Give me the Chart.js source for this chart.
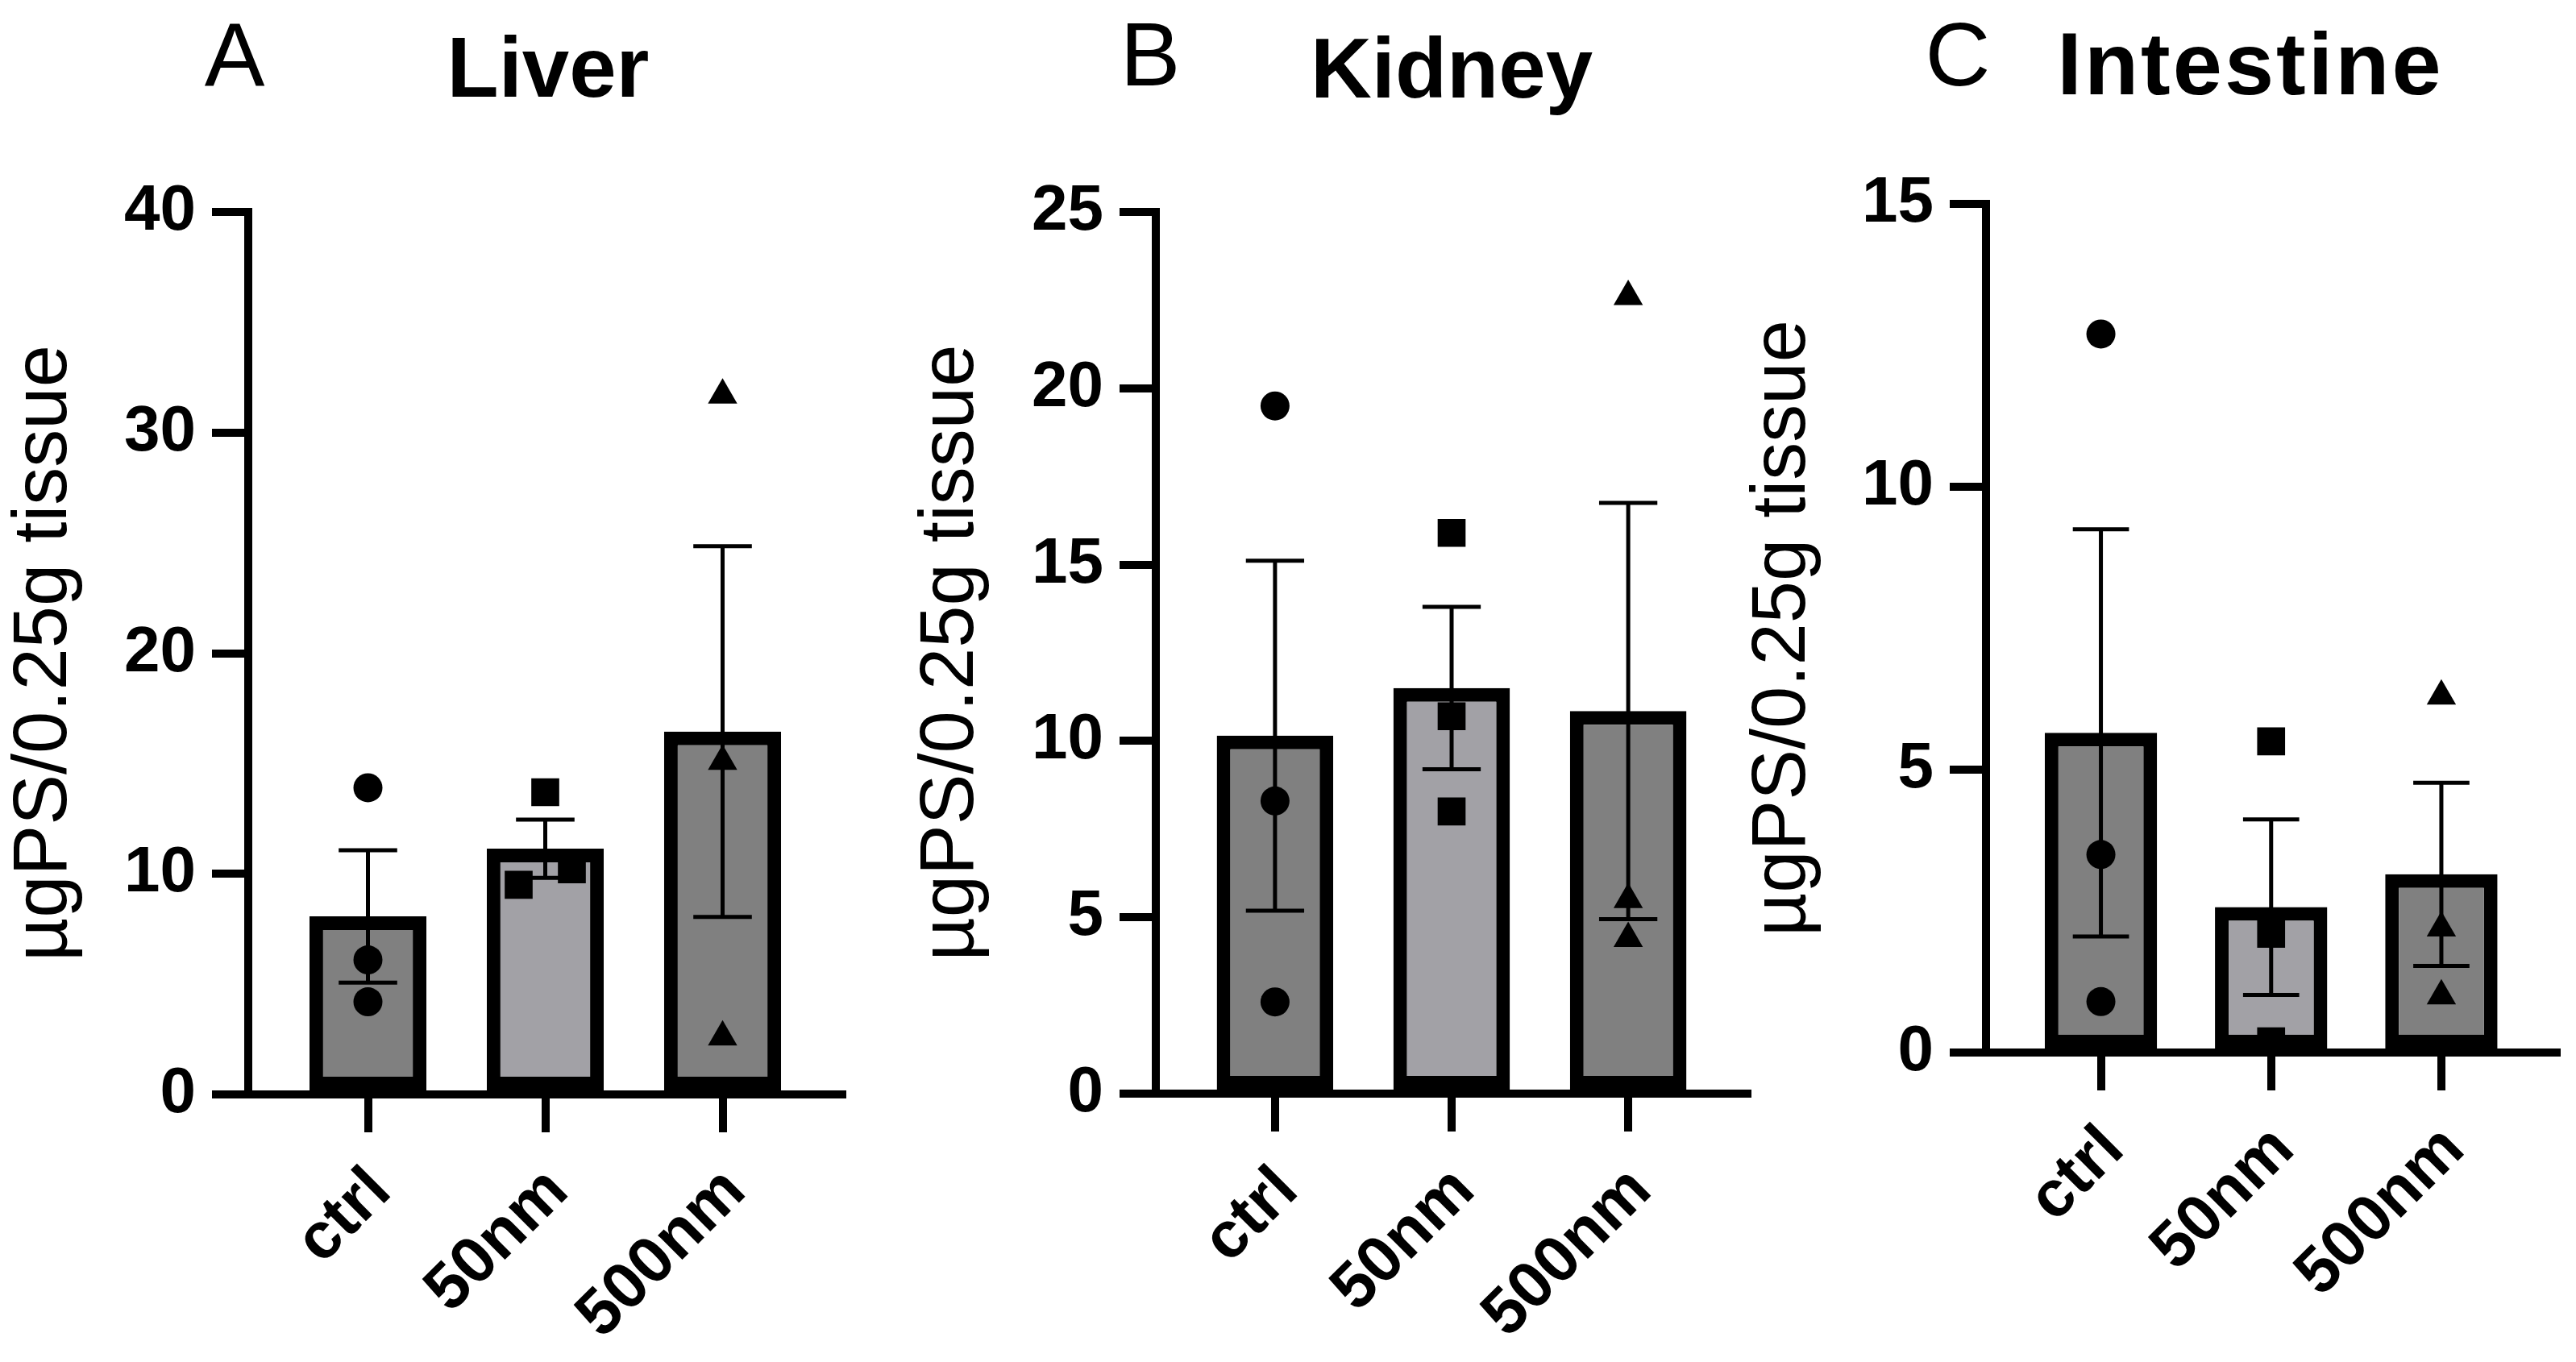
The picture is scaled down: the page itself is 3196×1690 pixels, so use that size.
<!DOCTYPE html>
<html>
<head>
<meta charset="utf-8">
<title>Tissue PS</title>
<script src="https://cdn.jsdelivr.net/npm/chart.js@4.4.1/dist/chart.umd.min.js"></script>
<style>
  html, body { margin: 0; padding: 0; background: #fff; }
  body { width: 3196px; height: 1690px; position: relative; overflow: hidden;
         font-family: "Liberation Sans", Arial, sans-serif; color: #000; }
  .panel { position: absolute; top: 0; height: 1690px; }
  .letter, .title { position: absolute; line-height: 1; white-space: nowrap; transform: translateX(-50%); }
  .letter { font-size: 112px; font-weight: normal; top: 12px; }
  .title { font-size: 105px; font-weight: bold; }
</style>
</head>
<body>
<div class="panel" style="left:0;width:1100px"><canvas id="liverChart"></canvas></div>
<div class="panel" style="left:1100px;width:1100px"><canvas id="kidneyChart"></canvas></div>
<div class="panel" style="left:2150px;width:1046px"><canvas id="intestineChart"></canvas></div>

<div class="letter" style="left:291px">A</div>
<div class="title" style="left:680px;top:31px">Liver</div>
<div class="letter" style="left:1427px">B</div>
<div class="title" style="left:1801px;top:32px">Kidney</div>
<div class="letter" style="left:2429px">C</div>
<div class="title" style="left:2792px;top:24px;font-size:110px;letter-spacing:3px">Intestine</div>

<script>
const groups = ['ctrl', '50nm', '500nm'];

// Liver
const liverMeans = [8.07, 11.14, 16.45];
const liverSem = [3.0, 1.32, 8.4];
const liverPoints = [[13.9, 6.1, 4.2], [13.7, 9.5, 10.2], [31.7, 15.1, 2.6]];
const liverSpread = [[0, 0, 0], [0, -0.15, 0.15], [0, 0, 0]];
const liverTicks = [0, 10, 20, 30, 40];

// Kidney
const kidneyMeans = [10.15, 11.5, 10.85];
const kidneySem = [4.96, 2.3, 5.9];
const kidneyPoints = [[19.5, 8.3, 2.6], [15.9, 10.7, 8.0], [22.6, 5.5, 4.4]];
const kidneySpread = [[0, 0, 0], [0, 0, 0], [0, 0, 0]];
const kidneyTicks = [0, 5, 10, 15, 20, 25];

// Intestine
const intestineMeans = [5.65, 2.57, 3.15];
const intestineSem = [3.6, 1.55, 1.62];
const intestinePoints = [[12.7, 3.5, 0.9], [5.5, 2.1, 0.2], [6.3, 2.2, 1.0]];
const intestineSpread = [[0, 0, 0], [0, 0, 0], [0, 0, 0]];
const intestineTicks = [0, 5, 10, 15];

Chart.defaults.font.family = '"Liberation Sans", Arial, sans-serif';
Chart.defaults.color = '#000';

const barColors = ['#808080', '#a2a1a6', '#808080'];
const shapes = ['circle', 'rect', 'triangle'];
const radii = [18, 24.5, 21];

function errorBars(means, sem) {
  return {
    id: 'errorBars',
    afterDatasetsDraw(chart) {
      const { ctx, scales: { x, y } } = chart;
      const bars = chart.getDatasetMeta(0).data;
      ctx.save();
      ctx.strokeStyle = '#000';
      ctx.lineWidth = 5;
      means.forEach((m, i) => {
        const px = x.getPixelForValue(i);
        const hi = y.getPixelForValue(m + sem[i]);
        const lo = y.getPixelForValue(m - sem[i]);
        const half = bars[i].width * 0.25;
        ctx.beginPath();
        ctx.moveTo(px, hi); ctx.lineTo(px, lo);
        ctx.moveTo(px - half, hi); ctx.lineTo(px + half, hi);
        ctx.moveTo(px - half, lo); ctx.lineTo(px + half, lo);
        ctx.stroke();
      });
      ctx.restore();
    }
  };
}

function makeChart(id, means, sem, points, spread, ticks, box) {
  const datasets = [{
    type: 'bar',
    order: 1,
    data: means.map((m, i) => ({ x: i, y: m })),
    backgroundColor: barColors,
    borderColor: '#000',
    borderWidth: 17,
    borderSkipped: false,
    barPercentage: 0.66,
    categoryPercentage: 1
  }];
  points.forEach((vals, i) => {
    datasets.push({
      type: 'scatter',
      order: 0,
      data: vals.map((v, j) => ({ x: i + spread[i][j], y: v })),
      pointStyle: shapes[i],
      pointRadius: radii[i],
      pointHoverRadius: radii[i],
      backgroundColor: '#000',
      borderColor: '#000',
      borderWidth: 0,
      clip: false
    });
  });

  return new Chart(document.getElementById(id), {
    type: 'bar',
    data: { datasets },
    plugins: [errorBars(means, sem)],
    options: {
      responsive: true,
      maintainAspectRatio: false,
      animation: false,
      events: [],
      layout: { padding: { top: box.top, right: box.right, left: 0, bottom: 0 } },
      plugins: { legend: { display: false }, tooltip: { enabled: false } },
      scales: {
        x: {
          type: 'linear',
          bounds: 'data',
          offset: false,
          min: -0.675,
          max: 2.675,
          afterBuildTicks: s => { s.ticks = groups.map((g, i) => ({ value: i })); },
          afterFit: s => { s.height = box.xHeight; },
          ticks: {
            callback: v => groups[v],
            autoSkip: false,
            minRotation: 45,
            maxRotation: 45,
            padding: 26,
            labelOffset: 16,
            font: { size: 81, weight: 'bold' }
          },
          grid: { offset: false, drawOnChartArea: false, drawTicks: true, tickLength: 47, lineWidth: 10, color: '#000' },
          border: { display: true, width: 10, color: '#000' }
        },
        y: {
          min: ticks[0],
          max: ticks[ticks.length - 1],
          afterBuildTicks: s => { s.ticks = ticks.map(v => ({ value: v })); },
          afterFit: s => { s.width = box.yWidth; },
          ticks: { padding: 20, font: { size: 80, weight: 'bold' } },
          grid: { drawOnChartArea: false, tickLength: 45, lineWidth: 10, color: '#000' },
          border: { display: true, width: 10, color: '#000' },
          title: {
            display: true,
            text: 'µgPS/0.25g tissue',
            font: { size: 94, weight: 'normal' },
            padding: { top: box.titlePad, bottom: 0 }
          }
        }
      }
    }
  });
}

makeChart('liverChart', liverMeans, liverSem, liverPoints, liverSpread, liverTicks,
  { top: 263, right: 55, xHeight: 332, yWidth: 308, titlePad: 0 });
makeChart('kidneyChart', kidneyMeans, kidneySem, kidneyPoints, kidneySpread, kidneyTicks,
  { top: 263, right: 32, xHeight: 333, yWidth: 334, titlePad: 25 });
makeChart('intestineChart', intestineMeans, intestineSem, intestinePoints, intestineSpread, intestineTicks,
  { top: 253, right: 18, xHeight: 384, yWidth: 314, titlePad: 7 });
</script>
</body>
</html>
